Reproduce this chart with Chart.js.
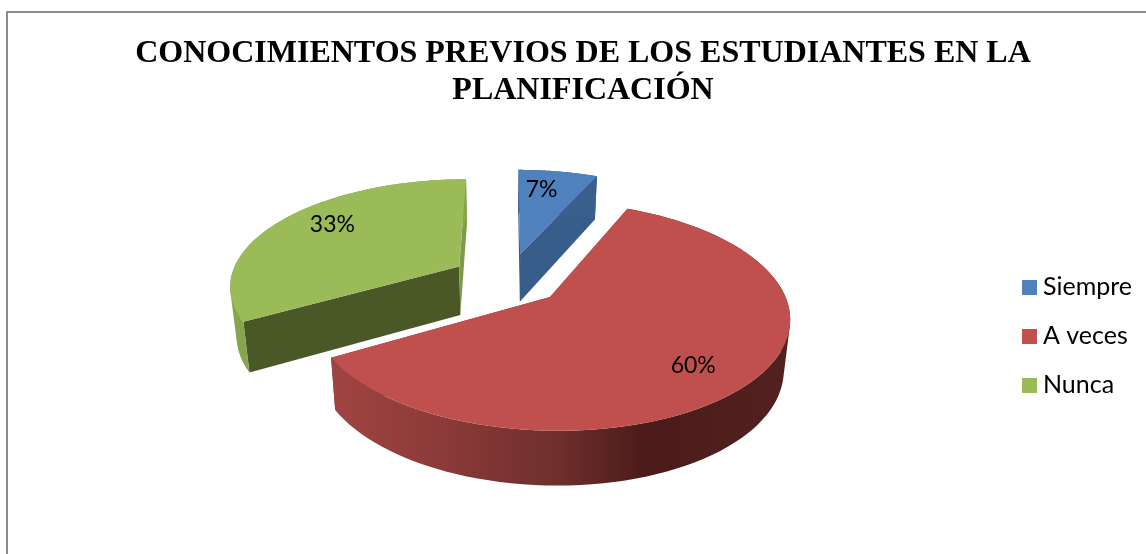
<!DOCTYPE html>
<html>
<head>
<meta charset="utf-8">
<style>
  html, body { margin: 0; padding: 0; background: #fff; overflow: hidden; }
  #frame { position: absolute; left: 6px; top: 11px; width: 1140px; height: 543px; border-left: 2px solid #8c8c8c; border-top: 2px solid #8c8c8c; box-sizing: border-box; }
  #box { position: absolute; left: 10px; top: 0; width: 1146px; height: 554px; }
</style>
<script src="https://cdn.jsdelivr.net/npm/chart.js@4"></script>
</head>
<body>
<div id="frame"></div>
<div id="box"><canvas id="myChart"></canvas></div>
<script>
const categories = ['Siempre', 'A veces', 'Nunca'];
const percentages = [6.67, 60, 33.33];
const titleLines = ['CONOCIMIENTOS PREVIOS DE LOS ESTUDIANTES EN LA', 'PLANIFICACIÓN'];

const topColors = ['#4f81bd', '#c0504d', '#9bbb59'];
const wallColors = ['#3a5f8c', null, '#86a54c'];
const cutColors = [['#385d8a', '#385d8a'], ['#7a2f2c', '#7a2f2c'], ['#4a5828', '#7f9a45']];
const sliceOffsets = [39, 36, 38];
const drawOrder = [2, 0, 1];
const labelNudge = [[-8, 0], [-4, 8], [8, -6]];

// fake perspective for the tilted pie, all relative to the arc radius
const tilt = { ax: 1.52, ay: 0.7, persp: 0.164, depth: 49, shrink: 0.977, shiftX: -6 };

function project(el, u, v, lower) {
  const w = 1 - tilt.persp * v;
  const k = lower ? tilt.shrink : 1;
  return {
    x: el.x + tilt.shiftX + tilt.ax * el.outerRadius * k * u / w,
    y: el.y + tilt.ay * el.outerRadius * v / w + (lower ? tilt.depth * (1 + 0.1 * v) : 0)
  };
}

function sliceGeometry(el) {
  const mid = (el.startAngle + el.endAngle) / 2;
  const off = el.options.offset / el.outerRadius;
  const ou = Math.cos(mid) * off;
  const ov = Math.sin(mid) * off;
  const rim = [];
  const steps = 90;
  for (let i = 0; i <= steps; i++) {
    const a = el.startAngle + (el.endAngle - el.startAngle) * i / steps;
    rim.push([ou + Math.cos(a), ov + Math.sin(a)]);
  }
  return { mid, ou, ov, rim };
}

function fillPoly(ctx, pts, color) {
  ctx.beginPath();
  pts.forEach((p, i) => (i ? ctx.lineTo(p.x, p.y) : ctx.moveTo(p.x, p.y)));
  ctx.closePath();
  ctx.fillStyle = color;
  ctx.fill();
}

function signedArea(q) {
  let a = 0;
  q.forEach((p, i) => {
    const n = q[(i + 1) % q.length];
    a += p.x * n.y - n.x * p.y;
  });
  return a;
}

const pie3d = {
  id: 'pie3d',
  afterLayout(chart) {
    // the legend sits lower and further in than its default box
    chart.legend.top += 111;
    chart.legend.bottom += 111;
    chart.legend.left -= 14;
    chart.legend.right -= 14;
  },
  beforeDatasetsDraw(chart) {
    const ctx = chart.ctx;
    const arcs = chart.getDatasetMeta(0).data;
    ctx.save();
    drawOrder.forEach((i) => {
      const el = arcs[i];
      const g = sliceGeometry(el);
      const apexTop = project(el, g.ou, g.ov, false);
      const apexLow = project(el, g.ou, g.ov, true);

      // side faces first, the top surface then hides whatever faces away
      [g.rim[0], g.rim[g.rim.length - 1]].forEach((r, n) => {
        fillPoly(ctx, [apexTop, project(el, r[0], r[1], false), project(el, r[0], r[1], true), apexLow], cutColors[i][n]);
      });

      const upper = g.rim.map((r) => project(el, r[0], r[1], false));
      const lower = g.rim.map((r) => project(el, r[0], r[1], true));
      let wall = wallColors[i];
      if (!wall) {
        const xs = upper.map((p) => p.x);
        const x0 = Math.min(...xs);
        const x1 = Math.max(...xs);
        wall = ctx.createLinearGradient(x0, 0, x1, 0);
        wall.addColorStop(0, '#a04541');
        wall.addColorStop(0.25, '#8a3a38');
        wall.addColorStop(0.5, '#6e2e2c');
        wall.addColorStop(0.69, '#4a1b19');
        wall.addColorStop(1, '#512220');
      }
      // the wall is swept quad by quad, all wound the same way so overlaps don't cancel
      ctx.beginPath();
      for (let s = 0; s < upper.length - 1; s++) {
        const q = [upper[s], upper[s + 1], lower[s + 1], lower[s]];
        if (signedArea(q) < 0) q.reverse();
        q.forEach((p, n) => (n ? ctx.lineTo(p.x, p.y) : ctx.moveTo(p.x, p.y)));
        ctx.closePath();
      }
      ctx.fillStyle = wall;
      ctx.fill();
      fillPoly(ctx, [apexTop].concat(upper), topColors[i]);
    });

    ctx.fillStyle = '#000';
    ctx.font = '23px Lato';
    ctx.textAlign = 'center';
    ctx.textBaseline = 'middle';
    arcs.forEach((el, i) => {
      const g = sliceGeometry(el);
      const p = project(el, g.ou + Math.cos(g.mid) * 0.75, g.ov + Math.sin(g.mid) * 0.75, false);
      ctx.fillText(Math.round(percentages[i]) + '%', p.x + labelNudge[i][0], p.y + labelNudge[i][1]);
    });
    ctx.restore();
    return false;
  }
};

// square swatches as images, so the gap to the legend text can be tight
const swatches = topColors.map((color) => {
  const c = document.createElement('canvas');
  c.width = 15;
  c.height = 15;
  const g = c.getContext('2d');
  g.fillStyle = color;
  g.fillRect(0, 0, 15, 15);
  return c;
});

new Chart(document.getElementById('myChart'), {
  type: 'pie',
  data: {
    labels: categories,
    datasets: [{
      data: percentages,
      backgroundColor: topColors,
      borderWidth: 0,
      offset: sliceOffsets
    }]
  },
  options: {
    responsive: true,
    maintainAspectRatio: false,
    animation: false,
    layout: { padding: { bottom: 104 } },
    plugins: {
      title: {
        display: true,
        text: titleLines,
        color: '#000',
        font: { family: 'Liberation Serif', size: 32, weight: 'bold', lineHeight: 1.16 },
        padding: { top: 35, bottom: 0 }
      },
      legend: {
        position: 'right',
        labels: {
          usePointStyle: true,
          pointStyleWidth: 2,
          boxHeight: 15,
          padding: 24,
          color: '#000',
          font: { family: 'Lato', size: 25 },
          generateLabels(chart) {
            const items = Chart.overrides.pie.plugins.legend.labels.generateLabels(chart);
            return items.map((item, i) => ({ ...item, pointStyle: swatches[i] }));
          }
        }
      },
      tooltip: { enabled: false }
    }
  },
  plugins: [pie3d]
});
</script>
</body>
</html>
